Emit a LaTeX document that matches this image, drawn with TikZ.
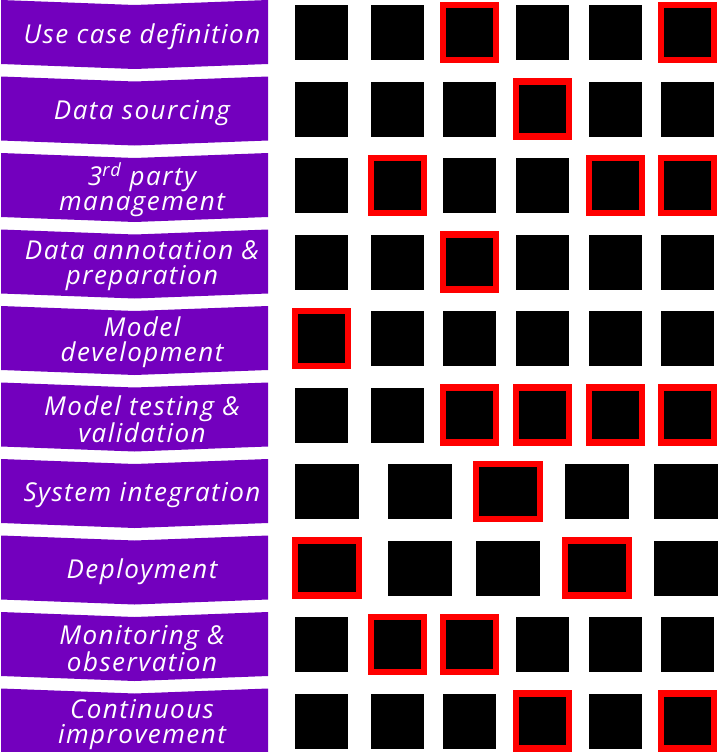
\documentclass[tikz,border=0pt]{standalone}
\usepackage{fontspec}
\setmainfont[LetterSpace=5.6]{Open Sans}
\definecolor{labelpurple}{HTML}{7300BE}
\definecolor{markred}{HTML}{FF0000}
\tikzset{
  stageshape/.style={fill=labelpurple, draw=none},
  stagetext/.style={text=white, font=\fontsize{26}{25}\selectfont\itshape, align=center, inner sep=0pt},
  cell/.style={fill=black, draw=none, inner sep=0pt, minimum width=53pt, minimum height=55pt},
  widecell/.style={cell, minimum width=64pt},
  flag0/.style={},
  flag1/.style={draw=markred, line width=6.5pt},
}
\begin{document}
\begin{tikzpicture}[x=1pt,y=-1pt]
\useasboundingbox (0,0) rectangle (718,752);
% stage labels
\foreach \r/\t in {0/{Use case definition},1/{Data sourcing},2/{3\textsuperscript{rd} party\\management},3/{Data annotation \&\\preparation},4/{Model\\development},5/{Model testing \&\\validation},6/{System integration},7/{Deployment},8/{Monitoring \&\\observation},9/{Continuous\\improvement}}{
  \pgfmathsetmacro\yt{76.5*\r}
  \coordinate (tl\r) at (1,\yt);
  \coordinate (tm\r) at (134.6,\yt+5);
  \coordinate (tr\r) at (268,\yt);
  \coordinate (br\r) at (268,\yt+64);
  \coordinate (bm\r) at (134.6,\yt+69);
  \coordinate (bl\r) at (1,\yt+64);
  \fill[stageshape] (tl\r) -- (tm\r) -- (tr\r) -- (br\r) -- (bm\r) -- (bl\r) -- cycle;
  \node[stagetext] (label\r) at (142,\yt+36.5) {\t};
}
% six-column rows
\foreach \r/\flags in {0/{0,0,1,0,0,1},1/{0,0,0,1,0,0},2/{0,1,0,0,1,1},3/{0,0,1,0,0,0},4/{1,0,0,0,0,0},5/{0,0,1,1,1,1},8/{0,1,1,0,0,0},9/{0,0,0,1,0,1}}{
  \foreach \f [count=\c] in \flags {
    \pgfmathsetmacro\xc{{321.5,397.5,469.5,542.5,615.5,687.5}[\c-1]}
    \node[cell, flag\f] (sq\r-\c) at (\xc,32.5+76.5*\r) {};
  }
}
% five-column rows
\foreach \r/\flags in {6/{0,0,1,0,0},7/{1,0,0,1,0}}{
  \foreach \f [count=\c] in \flags {
    \pgfmathsetmacro\xc{{327,420,508,597,686}[\c-1]}
    \node[widecell, flag\f] (sq\r-\c) at (\xc,32.5+76.5*\r) {};
  }
}
\end{tikzpicture}
\end{document}
